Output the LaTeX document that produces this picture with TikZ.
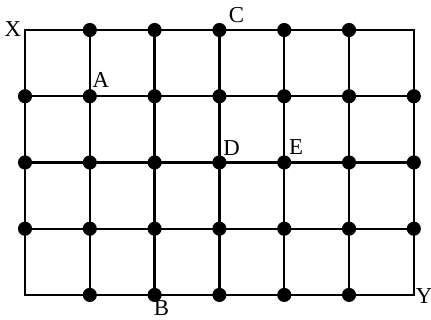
\documentclass[tikz,border=0pt]{standalone}
\usepackage{fontspec}
\setmainfont{Liberation Serif}
\usetikzlibrary{positioning}

\begin{document}
\begin{tikzpicture}[
    x=1cm, y=1.022cm,
    font=\fontsize{10}{12}\selectfont,
    grid/.style={draw=black, line width=1pt},
    dot/.style={circle, fill=black, inner sep=0pt, minimum size=6.2pt},
    lbl/.style={inner sep=1pt}
]
    \useasboundingbox (-0.386cm,-0.386cm) rectangle (6.265cm,4.551cm);

    % Grid points: 7 columns x 5 rows
    \foreach \i in {0,...,6}
        \foreach \j in {0,...,4}
            \coordinate (g-\i-\j) at (\i,\j);

    % Outer frame and inner lines
    \draw[grid] (g-0-0) rectangle (g-6-4);
    \foreach \j in {1,2,3}
        \draw[grid] (g-0-\j) -- (g-6-\j);
    \foreach \i in {1,...,5}
        \draw[grid] (g-\i-0) -- (g-\i-4);

    % Dots (none at the four corners)
    \foreach \i in {0,...,6}
        \foreach \j in {1,2,3}
            \node[dot] (d-\i-\j) at (g-\i-\j) {};
    \foreach \i in {1,...,5} {
        \node[dot] (d-\i-0) at (g-\i-0) {};
        \node[dot] (d-\i-4) at (g-\i-4) {};
    }

    % Labels
    \node[lbl, anchor=east, xshift=-0.5pt, yshift=0.5pt] (lX) at (g-0-4) {X};
    \node[lbl, anchor=west, xshift=-0.3pt, yshift=-0.5pt] (lY) at (g-6-0) {Y};
    \node[lbl, anchor=south west, xshift=3pt, yshift=2pt] (lC) at (d-3-4) {C};
    \node[lbl, anchor=south west, xshift=0pt, yshift=2.5pt] (lA) at (d-1-3) {A};
    \node[lbl, anchor=south west, xshift=0.5pt, yshift=2pt] (lD) at (d-3-2) {D};
    \node[lbl, anchor=south west, xshift=1pt, yshift=2.3pt] (lE) at (d-4-2) {E};
    \node[lbl, anchor=north, xshift=3pt, yshift=-1.5pt] (lB) at (d-2-0) {B};

\end{tikzpicture}
\end{document}
